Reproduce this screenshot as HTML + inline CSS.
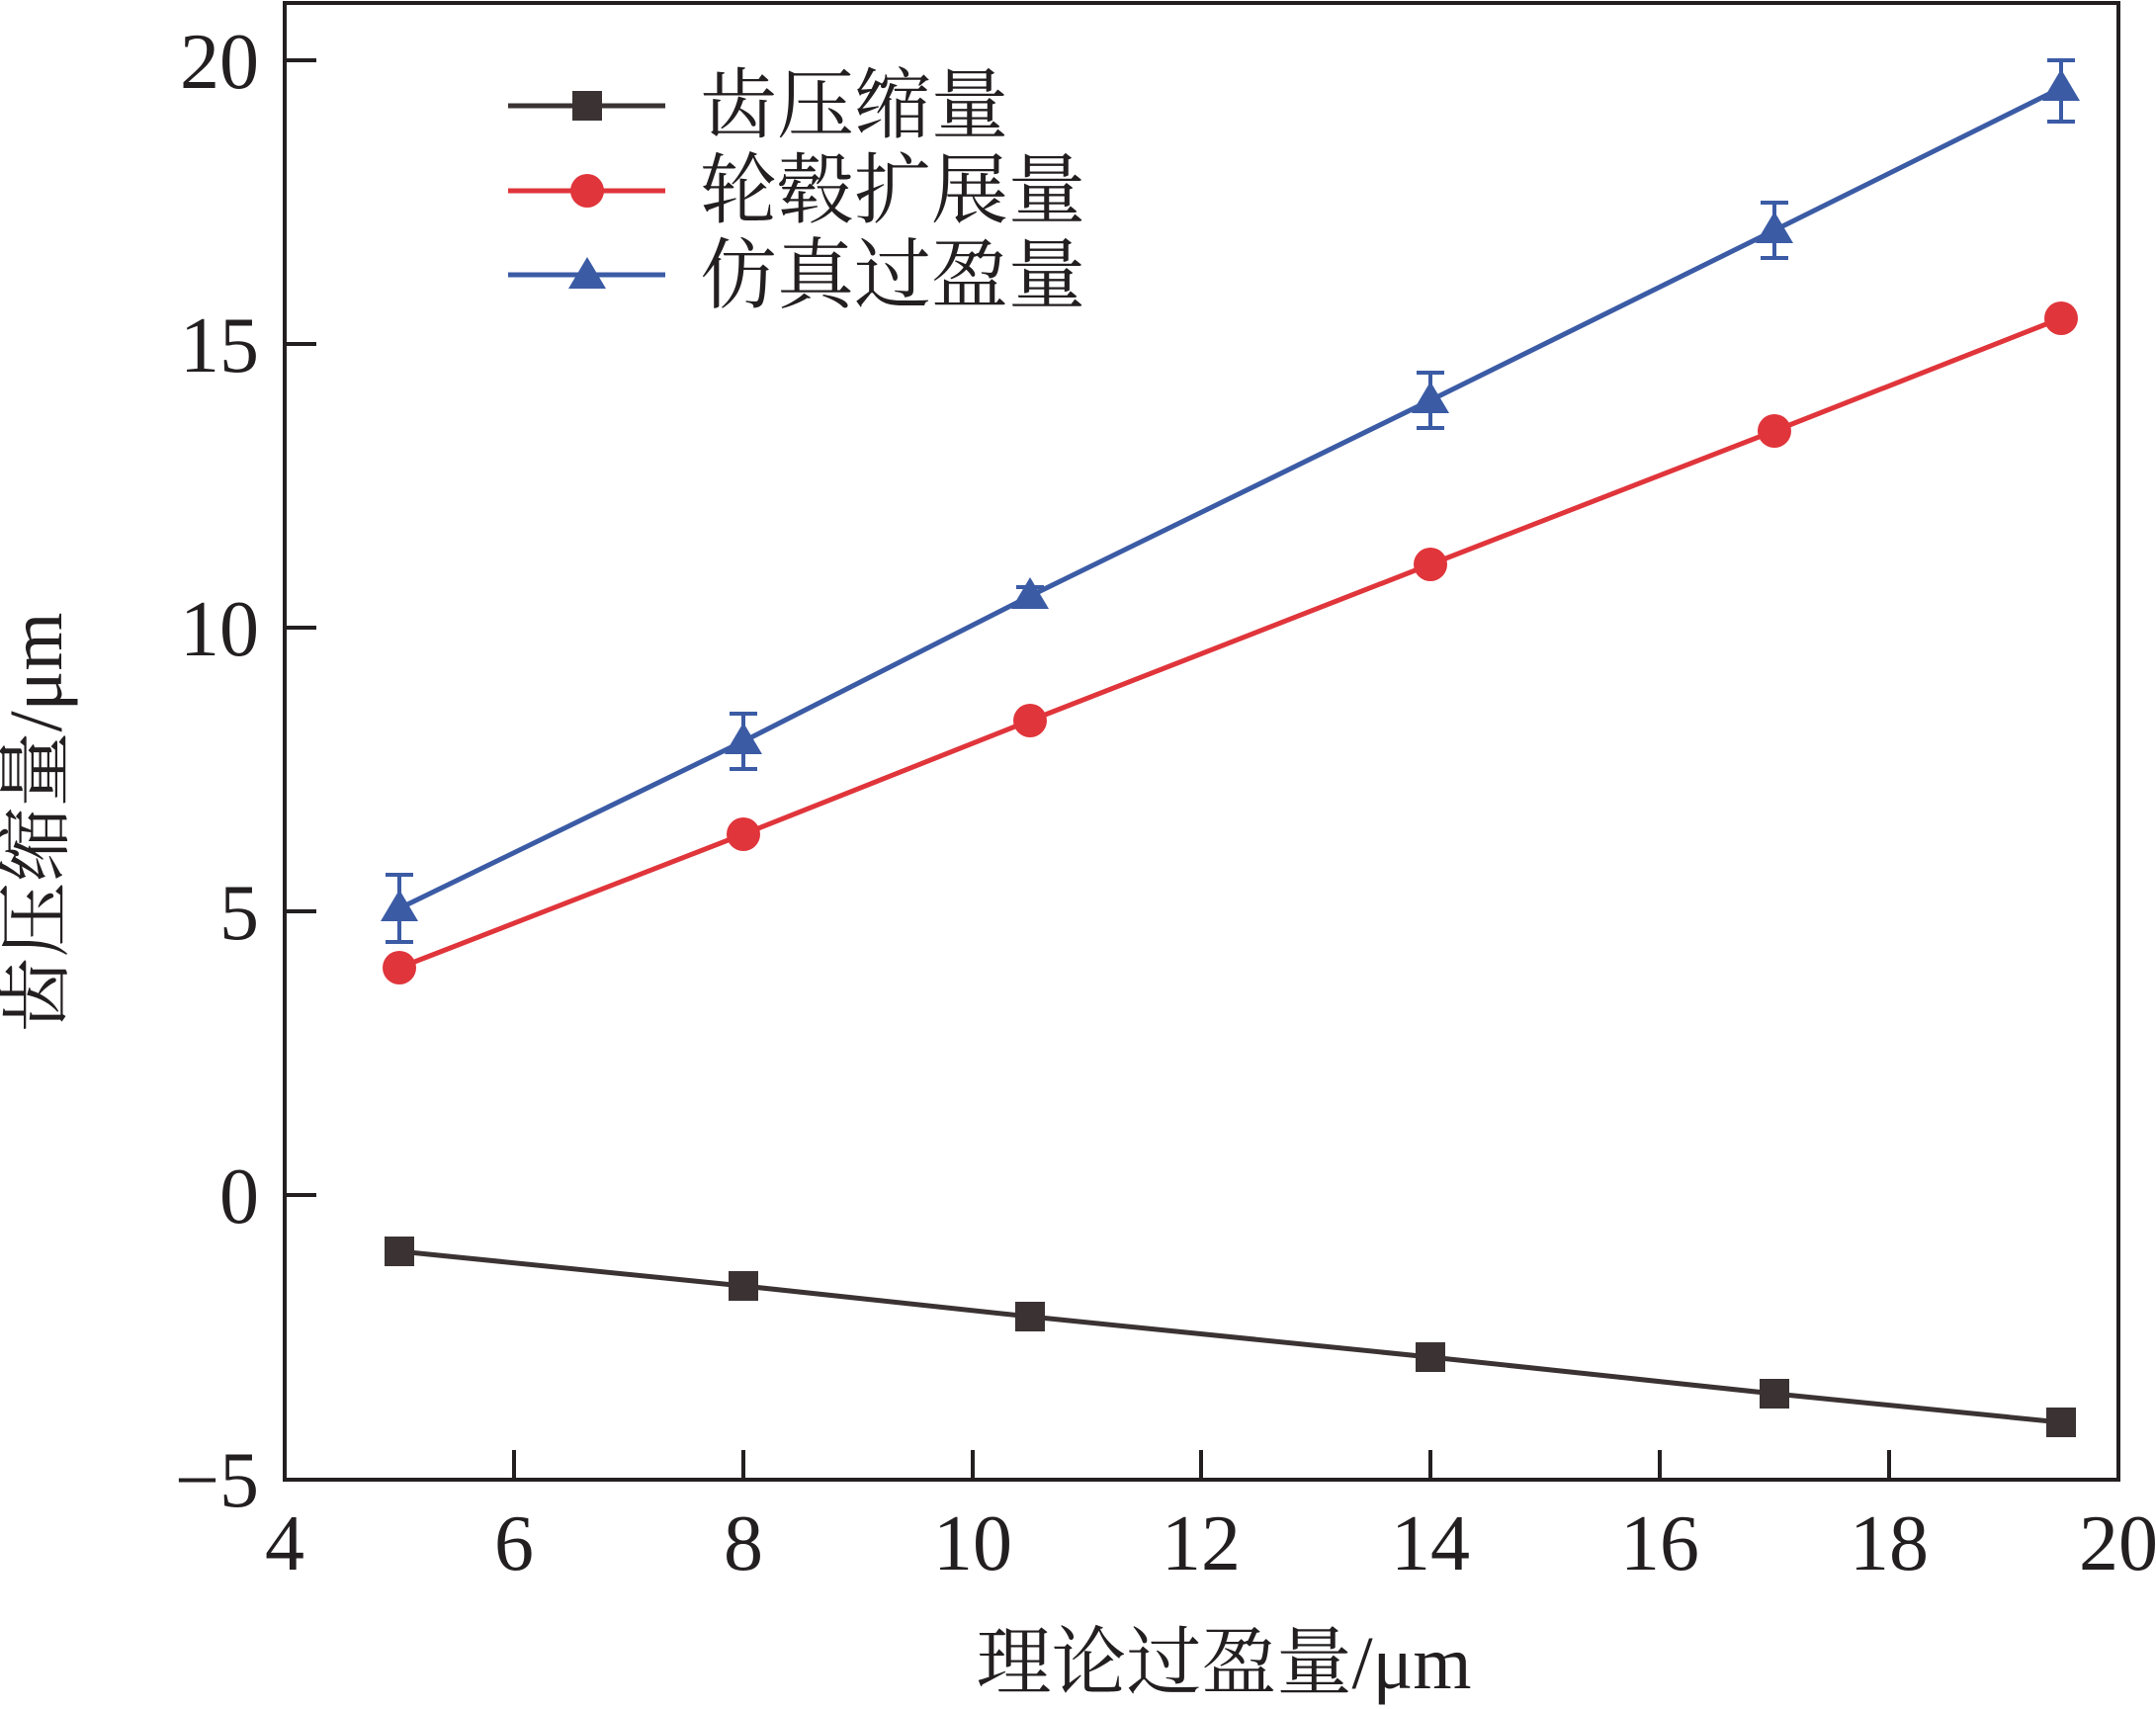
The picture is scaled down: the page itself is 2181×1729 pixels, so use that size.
<!DOCTYPE html>
<html><head><meta charset="utf-8"><style>
html,body{margin:0;padding:0;background:#fff;}
svg{display:block;}
text{font-family:"Liberation Serif","Noto Serif CJK SC",serif;fill:#231f20;}
</style></head><body>
<svg width="2181" height="1729" viewBox="0 0 2181 1729" xmlns="http://www.w3.org/2000/svg">
<rect x="288" y="3" width="1855" height="1494" fill="none" stroke="#231f20" stroke-width="4"/>
<g stroke="#231f20" stroke-width="4">
<line x1="520" y1="1497" x2="520" y2="1467"/><line x1="752" y1="1497" x2="752" y2="1467"/>
<line x1="984" y1="1497" x2="984" y2="1467"/><line x1="1215" y1="1497" x2="1215" y2="1467"/>
<line x1="1447" y1="1497" x2="1447" y2="1467"/><line x1="1679" y1="1497" x2="1679" y2="1467"/>
<line x1="1911" y1="1497" x2="1911" y2="1467"/>
<line x1="288" y1="61" x2="320" y2="61"/><line x1="288" y1="348" x2="320" y2="348"/>
<line x1="288" y1="635" x2="320" y2="635"/><line x1="288" y1="922" x2="320" y2="922"/>
<line x1="288" y1="1209" x2="320" y2="1209"/>
</g>
<g font-size="80" text-anchor="middle">
<text x="288" y="1588">4</text><text x="520" y="1588">6</text><text x="752" y="1588">8</text>
<text x="984" y="1588">10</text><text x="1215" y="1588">12</text><text x="1447" y="1588">14</text>
<text x="1679" y="1588">16</text><text x="1911" y="1588">18</text><text x="2143" y="1588">20</text>
</g>
<g font-size="80" text-anchor="end">
<text x="262" y="89">20</text><text x="262" y="376">15</text><text x="262" y="663">10</text>
<text x="262" y="950">5</text><text x="262" y="1237">0</text><text x="262" y="1524">−5</text>
</g>
<text x="1238" y="1708" font-size="76" text-anchor="middle">理论过盈量/μm</text>
<text transform="translate(62,832) rotate(-90)" font-size="76" text-anchor="middle">齿压缩量/μm</text>
<!-- black -->
<polyline fill="none" stroke="#3b3333" stroke-width="5" points="404,1266 752,1301 1042,1332 1447,1373 1795,1410 2085,1439"/>
<g fill="#3b3333">
<rect x="389" y="1251" width="30" height="30"/><rect x="737" y="1286" width="30" height="30"/>
<rect x="1027" y="1317" width="30" height="30"/><rect x="1432" y="1358" width="30" height="30"/>
<rect x="1780" y="1395" width="30" height="30"/><rect x="2070" y="1424" width="30" height="30"/>
</g>
<!-- red -->
<polyline fill="none" stroke="#e0353b" stroke-width="5" points="404,979 752,844 1042,729 1447,571 1795,436 2085,322"/>
<g fill="#e0353b">
<circle cx="404" cy="979" r="17"/><circle cx="752" cy="844" r="17"/><circle cx="1042" cy="729" r="17"/>
<circle cx="1447" cy="571" r="17"/><circle cx="1795" cy="436" r="17"/><circle cx="2085" cy="322" r="17"/>
</g>
<!-- blue -->
<polyline fill="none" stroke="#3b5ba5" stroke-width="5" points="404,919 752,750 1042,603 1447,405 1795,233 2085,89"/>
<g stroke="#3b5ba5" stroke-width="4" fill="none">
<path d="M404,885V953M390,885H418M390,953H418"/>
<path d="M752,722V778M738,722H766M738,778H766"/>
<path d="M1042,594V612M1028,594H1056M1028,612H1056"/>
<path d="M1447,377V433M1433,377H1461M1433,433H1461"/>
<path d="M1795,205V261M1781,205H1809M1781,261H1809"/>
<path d="M2085,61V123M2071,61H2099M2071,123H2099"/>
</g>
<g fill="#3b5ba5">
<polygon points="404,900 385,932 423,932"/><polygon points="752,731 733,763 771,763"/>
<polygon points="1042,584 1023,616 1061,616"/><polygon points="1447,386 1428,418 1466,418"/>
<polygon points="1795,214 1776,246 1814,246"/><polygon points="2085,70 2066,102 2104,102"/>
</g>
<!-- legend -->
<line x1="514" y1="107" x2="673" y2="107" stroke="#3b3333" stroke-width="5"/>
<rect x="579" y="92" width="30" height="30" fill="#3b3333"/>
<line x1="514" y1="193" x2="673" y2="193" stroke="#e0353b" stroke-width="5"/>
<circle cx="594" cy="193" r="17" fill="#e0353b"/>
<line x1="514" y1="278" x2="673" y2="278" stroke="#3b5ba5" stroke-width="5"/>
<polygon points="594,260 575,292 613,292" fill="#3b5ba5"/>
<g font-size="78">
<text x="708" y="133">齿压缩量</text>
<text x="708" y="219">轮毂扩展量</text>
<text x="708" y="305">仿真过盈量</text>
</g>
</svg>
</body></html>
